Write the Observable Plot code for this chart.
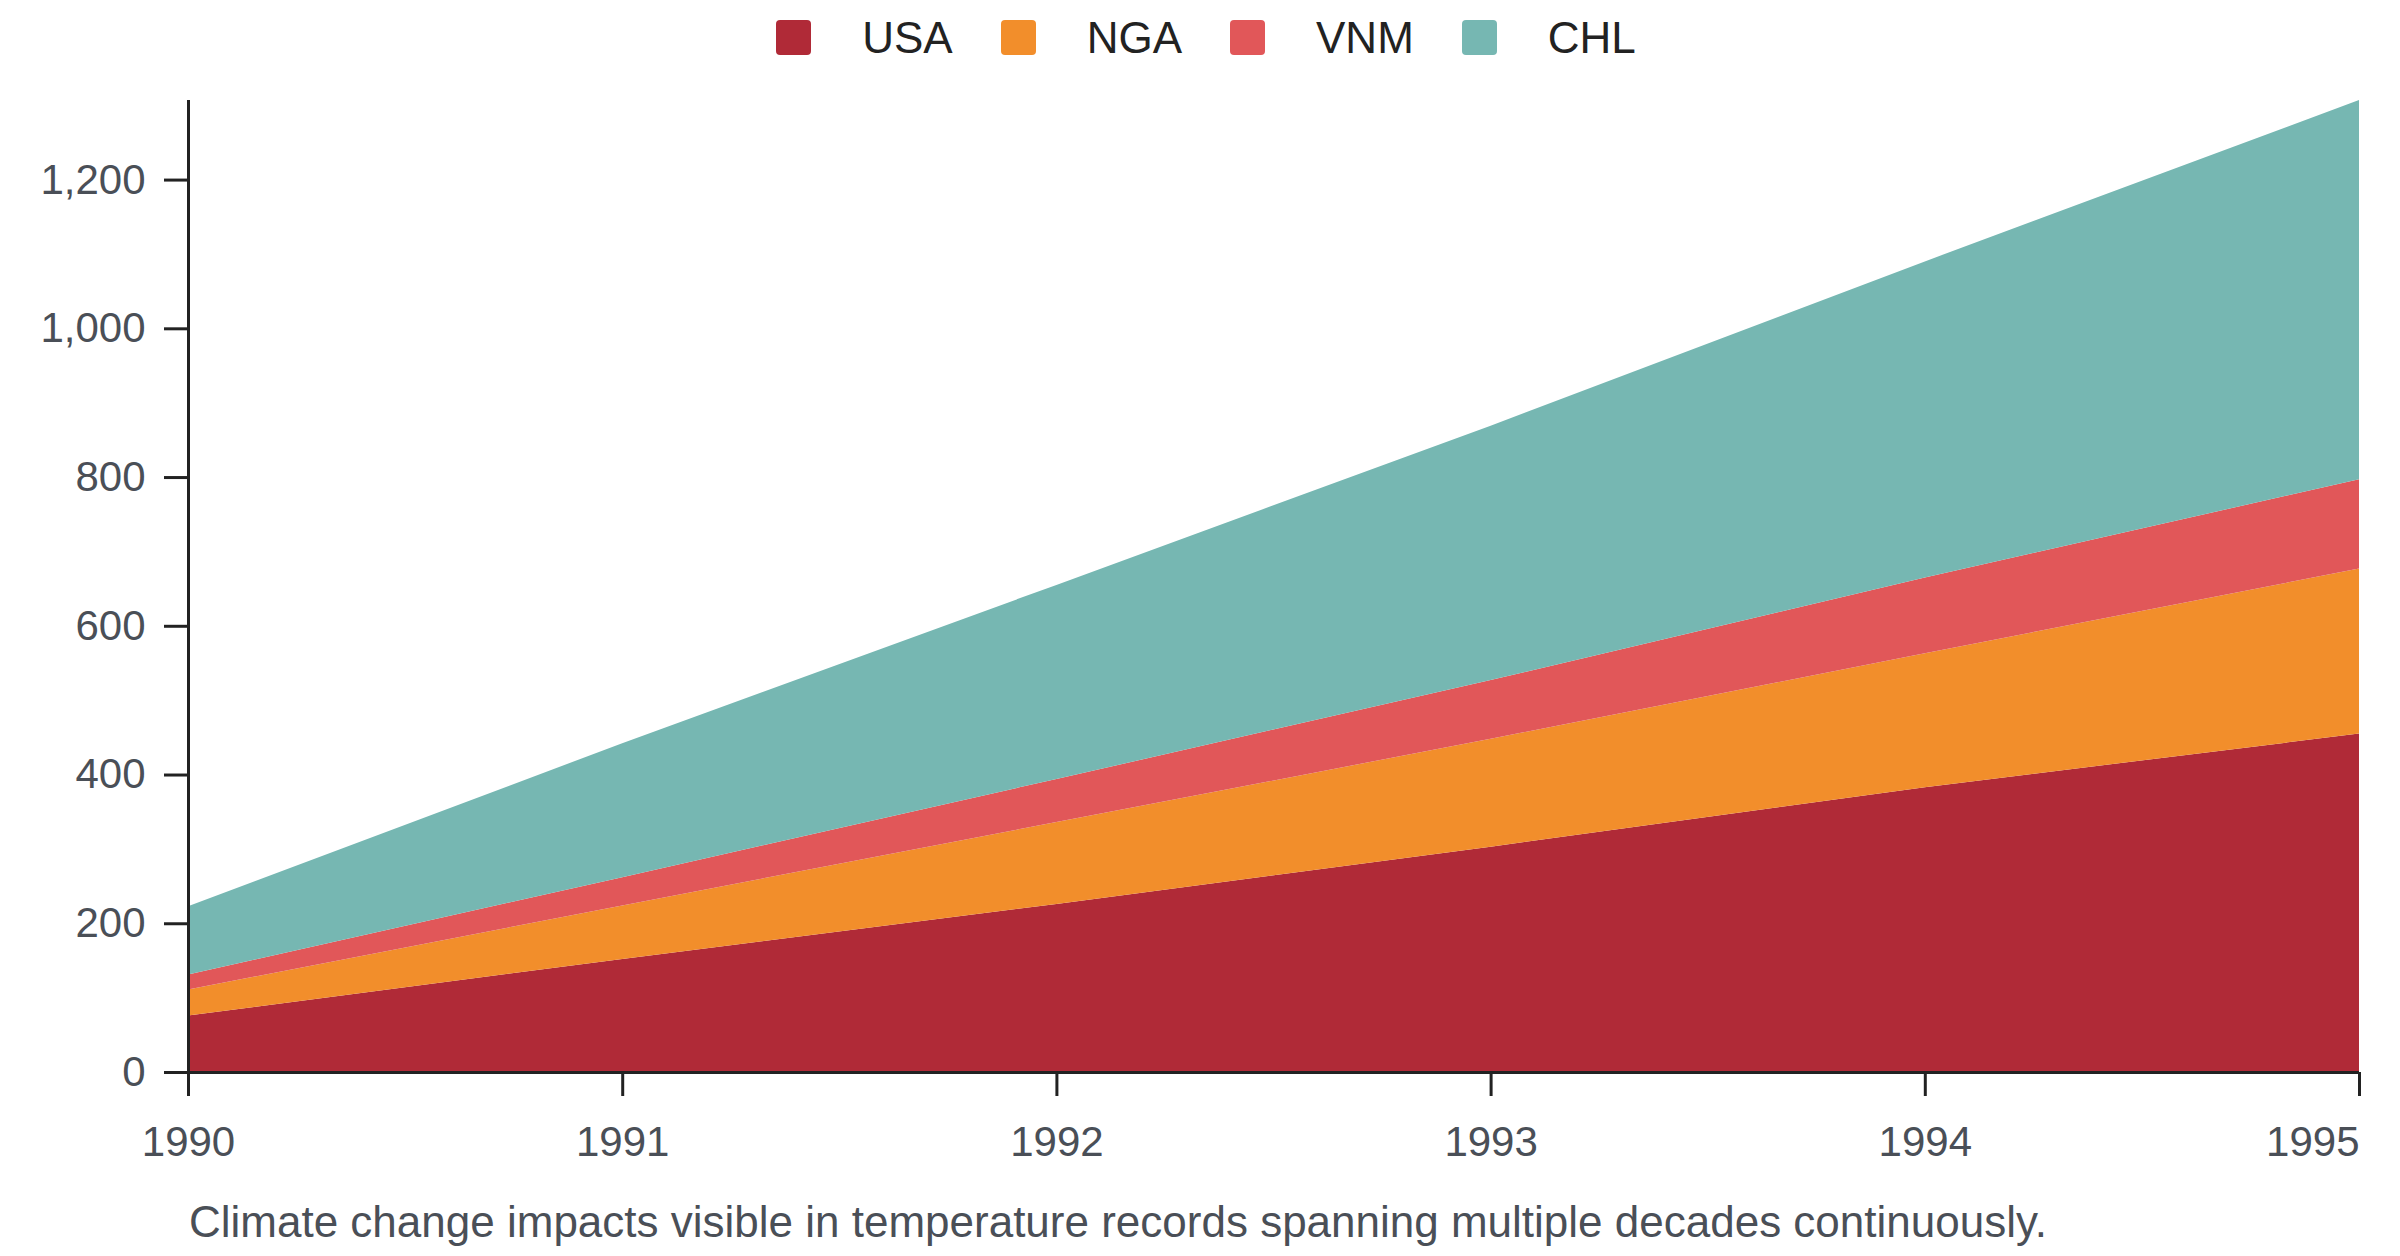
<!DOCTYPE html>
<html>
<head>
<meta charset="utf-8">
<script src="https://cdn.jsdelivr.net/npm/d3@7"></script>
<script src="https://cdn.jsdelivr.net/npm/@observablehq/plot@0.6"></script>
<style>
  html, body { margin: 0; padding: 0; background: #ffffff; }
  body { width: 2400px; height: 1256px; overflow: hidden; font-family: "Liberation Sans", Arial, sans-serif; }
  #legend { height: 72px; display: flex; justify-content: center; align-items: flex-start; padding-left: 12px; box-sizing: border-box; }
  .item { display: flex; align-items: center; margin: 0 24px; height: 35px; margin-top: 20px; }
  .sw { width: 35px; height: 35px; border-radius: 4px; margin-right: 51px; }
  .lab { font-size: 44px; color: #222222; line-height: 35px; }
  #caption { font-size: 44px; color: #4a4f57; padding-left: 189px; padding-top: 7px; line-height: 50px; white-space: nowrap; }
  svg { display: block; }
</style>
</head>
<body>
<div id="legend"></div>
<div id="chart"></div>
<div id="caption"></div>
<script>
const years = [1990, 1991, 1992, 1993, 1994, 1995];
const countries = ["USA", "NGA", "VNM", "CHL"];
const usaValues = [76, 152, 226, 303, 383, 455];
const ngaValues = [35, 72, 110, 145, 180, 222];
const vnmValues = [20, 38, 58, 79, 102, 120];
const chlValues = [92, 180, 261, 342, 425, 510];
const colors = ["#b02a37", "#f28e2b", "#e15759", "#76b7b2"];
const yTicks = [0, 200, 400, 600, 800, 1000, 1200];
const captionText = "Climate change impacts visible in temperature records spanning multiple decades continuously.";

const valueSets = [usaValues, ngaValues, vnmValues, chlValues];
const data = countries.flatMap((c, i) => years.map((y, j) => ({year: y, country: c, value: valueSets[i][j]})));
const totals = years.map((y, j) => d3.sum(valueSets, v => v[j]));

const legend = document.getElementById("legend");
countries.forEach((c, i) => {
  const it = document.createElement("div"); it.className = "item";
  const sw = document.createElement("div"); sw.className = "sw"; sw.style.background = colors[i];
  const lb = document.createElement("span"); lb.className = "lab"; lb.textContent = c;
  it.appendChild(sw); it.appendChild(lb); legend.appendChild(it);
});

const axisCommon = {tickFormat: d3.format("d"), tickSize: 24, tickPadding: 30, strokeWidth: 3, stroke: "#222222", fill: "#4a4f57", label: null};

const chart = Plot.plot({
  width: 2400,
  height: 1118,
  marginTop: 28,
  marginRight: 41,
  marginBottom: 118,
  marginLeft: 188,
  style: {fontFamily: '"Liberation Sans", Arial, sans-serif', fontSize: "42px", background: "#ffffff", color: "#222222", overflow: "visible"},
  x: {domain: [d3.min(years), d3.max(years)]},
  y: {domain: [0, d3.max(totals)]},
  color: {domain: countries, range: colors},
  marks: [
    Plot.areaY(data, {x: "year", y: "value", fill: "country", order: countries}),
    Plot.axisX({...axisCommon, ticks: years.slice(0, -1)}),
    Plot.axisX({...axisCommon, ticks: years.slice(-1), textAnchor: "end"}),
    Plot.axisY({ticks: yTicks, tickFormat: d3.format(",d"), tickSize: 24, tickPadding: 19, strokeWidth: 3, stroke: "#222222", fill: "#4a4f57", label: null}),
    Plot.ruleY([0], {stroke: "#222222", strokeWidth: 3}),
    Plot.ruleX([d3.min(years)], {stroke: "#222222", strokeWidth: 3})
  ]
});
document.getElementById("chart").appendChild(chart);
document.getElementById("caption").textContent = captionText;
</script>
</body>
</html>
